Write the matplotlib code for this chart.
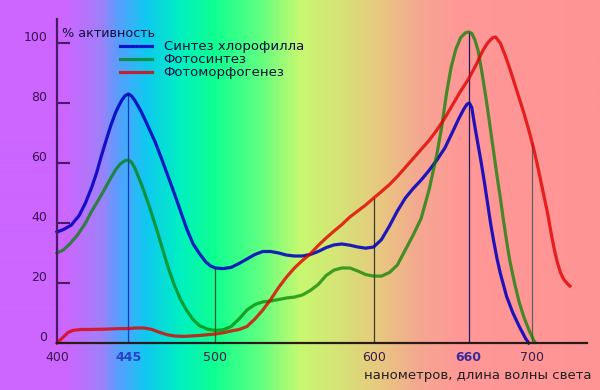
import numpy as np
import matplotlib
matplotlib.use("Agg")
import matplotlib.pyplot as plt
from matplotlib.colors import LinearSegmentedColormap
from matplotlib.transforms import ScaledTranslation

# --- data (nm, % activity) ---
wl_chl = [400, 404, 409, 414, 418, 422, 425, 428, 431, 434, 437, 439, 441, 443,
          445, 447, 449, 451, 453, 456, 459, 462, 466, 470, 474, 478, 482, 486,
          490, 494, 497, 500, 505, 510, 515, 520, 525, 530, 535, 540, 545, 550,
          555, 560, 565, 570, 575, 580, 585, 590, 595, 600, 605, 610, 615, 620,
          625, 630, 635, 640, 645, 650, 654, 657, 659, 660.5, 662, 664, 666, 668,
          670, 672, 674, 676, 678, 680, 684, 688, 692, 696, 698]
chl = [37, 37.8, 39.3, 42.5, 46.7, 52, 56.7, 62.3, 67.5, 72.5, 76.8, 79, 81, 82.4,
       83, 82.4, 81, 79.2, 77.3, 74, 70.5, 67, 61.5, 55.8, 50, 44, 38, 33,
       29.8, 27, 25.7, 25, 24.8, 25.2, 26.5, 28, 29.5, 30.5, 30.5, 30, 29.3, 29,
       29, 29.5, 30.5, 31.8, 32.7, 33, 32.6, 32, 31.6, 32, 34.5, 39, 44, 48.3,
       51.5, 54.3, 57.5, 61, 65, 70.5, 75, 78, 79.6, 80, 78.5, 72, 66, 60,
       53.5, 46.5, 39.5, 33.5, 28, 23.3, 15.5, 10, 5.5, 1.5, 0]

wl_ps = [400, 404, 408, 413, 418, 422, 426, 430, 434, 437, 440, 443, 445, 447,
         449, 451, 454, 458, 462, 466, 470, 474, 478, 482, 486, 490, 495, 500,
         505, 510, 515, 520, 525, 530, 535, 540, 545, 550, 555, 560, 565, 570,
         575, 580, 585, 590, 595, 600, 605, 610, 615, 620, 625, 630, 635, 640,
         643, 646, 649, 652, 655, 658, 660, 662, 664, 666, 668, 670, 672, 674,
         676, 678, 680, 682, 684, 686, 689, 692, 695, 698, 701, 702]
ps = [30, 31, 33, 36, 40, 44, 47.5, 51.2, 55, 57.7, 59.7, 60.8, 61, 60.3,
      58.5, 56, 52, 46, 39.5, 32.5, 25.5, 19.5, 14.5, 10.8, 7.8, 5.8, 4.6, 4.2,
      4.4, 5.5, 8, 11, 12.8, 13.7, 14, 14.5, 15, 15.3, 16, 17.5, 19.5, 22.5,
      24.3, 25, 25, 24, 22.8, 22.3, 22.3, 23.5, 26, 31, 36, 41.5, 51, 63,
      72, 83, 92, 98, 101.8, 103.4, 103.7, 103.2, 101, 97.5, 91.5, 85, 78, 70.5,
      63, 55.5, 48.5, 41, 34, 27.5, 20, 13.5, 8.5, 4.5, 1, 0.2]

wl_pm = [400, 403, 407, 410, 415, 420, 430, 440, 445, 450, 455, 460, 465, 470,
         475, 480, 490, 500, 505, 510, 515, 520, 525, 530, 535, 540, 545, 550,
         555, 560, 565, 570, 575, 580, 585, 590, 595, 600, 605, 610, 615, 620,
         625, 630, 635, 640, 645, 650, 655, 660, 665, 669, 672, 675, 677, 680,
         683, 686, 689, 692, 695, 698, 701, 704, 707, 710, 712, 714, 716, 718,
         720, 722, 724]
pm = [0, 1.5, 3.5, 4.2, 4.5, 4.5, 4.6, 4.8, 4.8, 5, 5, 4.5, 3.5, 2.7,
      2.3, 2.2, 2.5, 3, 3.4, 4, 4.5, 5.5, 8, 11, 14.5, 18.5, 22, 25,
      27.5, 29.7, 32.5, 35, 37.3, 39.5, 42, 44, 46, 48.3, 50.5, 52.8, 55.5, 58.5,
      61.5, 64.5, 67.5, 71, 75, 79.5, 84, 88, 93, 97.5, 100, 101.7, 102, 100,
      96, 91.5, 86.5, 81.5, 76.5, 71, 65, 58, 50.5, 43, 37, 31.5, 27, 23.5,
      21.3, 20, 19]

marks = [445, 500, 600, 660, 700]
mark_tops = [83, 25, 48.3, 103.7, 67]
mark_colors = ["#2030c0", "#305a30", "#3a3a20", "#1a1a60", "#606060"]

xticks = [400, 445, 500, 600, 660, 700]
yticks = [0, 20, 40, 60, 80, 100]
names = ["Синтез хлорофилла", "Фотосинтез", "Фотоморфогенез"]

# background spectrum, positions as fraction of width
bg_stops = [(0.0, "#cc66ff"), (0.108, "#cc66ff"), (0.167, "#a080f8"),
            (0.197, "#55a0ff"), (0.242, "#10c8f0"), (0.30, "#00f0c0"),
            (0.358, "#10ff90"), (0.433, "#60ff80"), (0.50, "#c8f870"),
            (0.575, "#d8e078"), (0.633, "#e8c880"), (0.70, "#f4a890"),
            (0.767, "#ff9898"), (1.0, "#ff9494")]
bg = LinearSegmentedColormap.from_list("spec", bg_stops)

x0, x1 = 364.0, 743.0
y0, y1 = -15.67, 114.33

fig = plt.figure(figsize=(6, 3.9), dpi=100)
ax = fig.add_axes([0, 0, 1, 1])
ax.imshow(np.linspace(0, 1, 600).reshape(1, -1), cmap=bg, aspect="auto",
          extent=[x0, x1, y0, y1], zorder=0)

ax.vlines(marks, 0, mark_tops, colors=mark_colors, linewidth=0.9, zorder=2)

l1, = ax.plot(wl_chl, chl, color="#0000c0", alpha=0.88, lw=2.3, zorder=3,
              solid_joinstyle="round", label=names[0])
l2, = ax.plot(wl_ps, ps, color="#008000", alpha=0.72, lw=2.3, zorder=3,
              solid_joinstyle="round", label=names[1])
l3, = ax.plot(wl_pm, pm, color="#e00000", alpha=0.8, lw=2.3, zorder=3,
              solid_joinstyle="round", label=names[2])

ax.set_xlim(x0, x1)
ax.set_ylim(y0, y1)

for s in ["top", "right"]:
    ax.spines[s].set_visible(False)
ax.spines["left"].set_position(("data", 400))
ax.spines["bottom"].set_position(("data", 0))
ax.spines["left"].set_bounds(0, 108)
ax.spines["bottom"].set_bounds(400, 735)
ax.spines["left"].set_color("#4a1a6a")
ax.spines["bottom"].set_color("#2a1a1a")
ax.spines["left"].set_linewidth(1.6)
ax.spines["bottom"].set_linewidth(1.6)
ax.spines["left"].set_zorder(4)
ax.spines["bottom"].set_zorder(4)

ax.set_yticks(yticks, [str(v) for v in yticks])
ax.tick_params(axis="y", direction="in", length=9.5, width=1.5,
               color="#4a1a6a", labelsize=9, labelcolor="#3a1050", pad=7)
up = ScaledTranslation(0, 5 / 72, fig.dpi_scale_trans)
for lab in ax.get_yticklabels():
    lab.set_transform(lab.get_transform() + up)

ax.set_xticks(xticks, [str(v) for v in xticks])
ax.tick_params(axis="x", length=0, labelsize=9, labelcolor="#3a1a4a", pad=6)
for lab in ax.get_xticklabels():
    if lab.get_text() == "445":
        lab.set_color("#2a3fc8")
        lab.set_fontweight("bold")
    if lab.get_text() == "660":
        lab.set_color("#3a2a9a")
        lab.set_fontweight("bold")

ax.text(403, 103, "% активность", fontsize=9.2, color="#101040",
        ha="left", va="center")
ax.text(737.5, -11, "нанометров, длина волны света", fontsize=9.5,
        color="#202020", ha="right", va="center")

ax.legend(handles=[l1, l2, l3], loc="upper left",
          bbox_to_anchor=(0.2, 0.897), frameon=False, fontsize=9.5,
          handlelength=2.45, handletextpad=0.85, labelspacing=0.0,
          borderpad=0, borderaxespad=0, labelcolor="#101040")

fig.savefig("out.png", dpi=100)
